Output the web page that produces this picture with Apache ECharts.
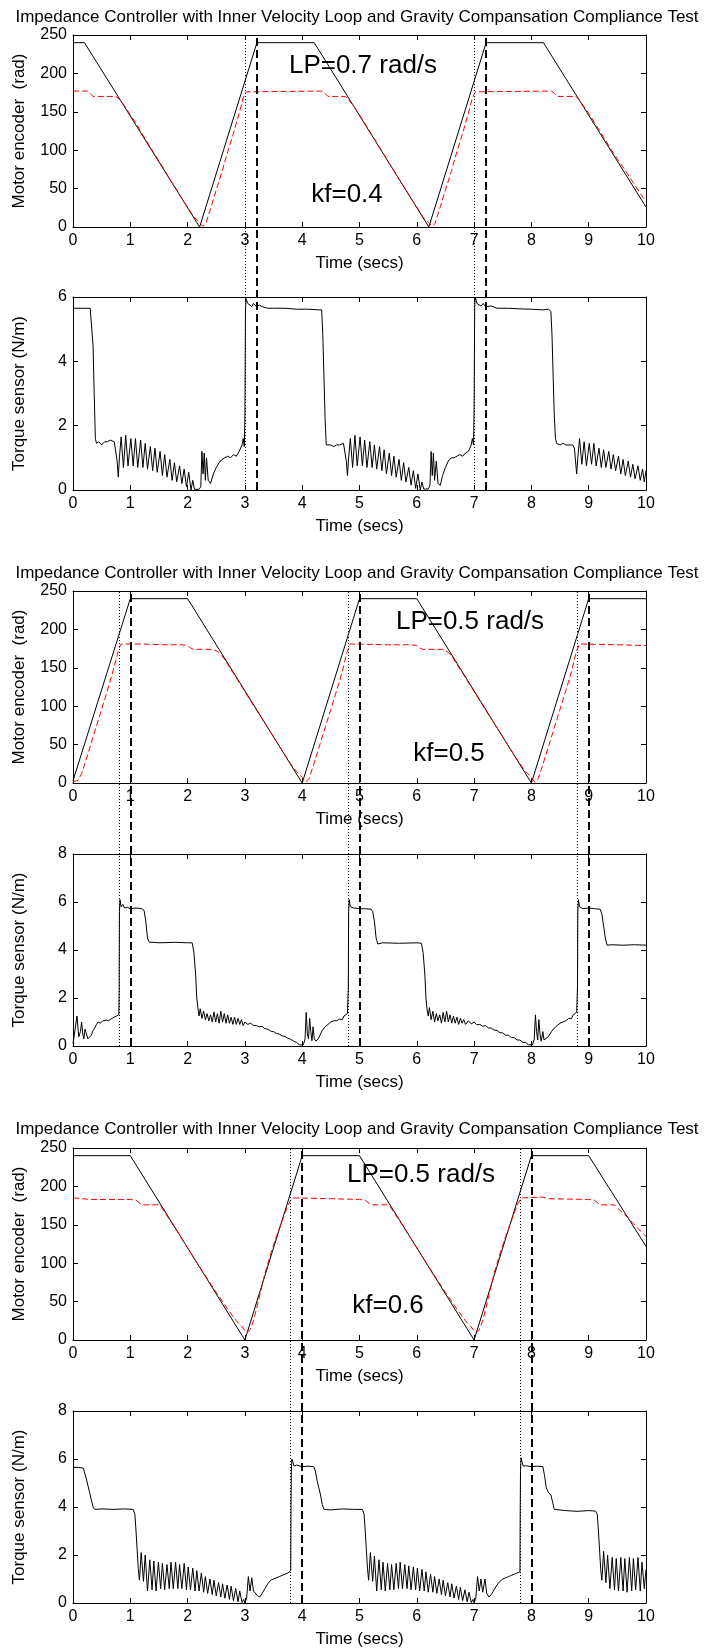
<!DOCTYPE html>
<html><head><meta charset="utf-8">
<script src="https://cdn.jsdelivr.net/npm/echarts@6/dist/echarts.min.js"></script>
<style>html,body{margin:0;padding:0;background:#fff}#c{width:705px;height:1650px}</style>
</head><body><div id="c"></div><script>
// ---------- DATA ----------
const chartTitle = 'Impedance Controller with Inner Velocity Loop and Gravity Compansation Compliance Test';
const xAxisName = 'Time (secs)';
const encName = 'Motor encoder  (rad)';
const torqueName = 'Torque sensor (N/m)';
const lpLabels = ['LP=0.7 rad/s', 'LP=0.5 rad/s', 'LP=0.5 rad/s'];
const kfLabels = ['kf=0.4', 'kf=0.5', 'kf=0.6'];
const timeRange = [0, 10];
const encRange = [0, 250];
const torqueMax = [6, 8, 8];

// Group 1 (kf=0.4)
const enc1Motor = [[0,240],[0.2,240],[2.21,0],[3.21,240],[4.21,240],[6.21,0],[7.21,240],[8.21,240],[10,26]];
const enc1Ref = [[0,177],[0.25,177],[0.3,174],[0.35,170],[0.75,170],[0.8,167],[0.9,158],[1.0,146],[1.1,135],[1.2,122],[1.3,110],[1.4,98],[1.5,86],[1.6,74],[1.7,61],[1.8,50],[1.9,37],[2.0,26],[2.1,14],[2.2,6],[2.27,1],[2.32,5],[2.4,24],[2.5,48],[2.6,72],[2.7,98],[2.8,122],[2.9,148],[2.97,168],[3.02,176],[3.05,177],[4.35,177],[4.4,174],[4.45,170],[4.75,170],[4.8,167],[4.9,157],[5.0,146],[5.1,134],[5.2,122],[5.3,110],[5.4,98],[5.5,85],[5.6,74],[5.7,61],[5.8,50],[5.9,37],[6.0,26],[6.1,14],[6.2,6],[6.27,1],[6.32,5],[6.4,24],[6.5,48],[6.6,72],[6.7,98],[6.8,122],[6.9,148],[6.97,168],[7.02,176],[7.05,177],[8.35,177],[8.4,174],[8.45,170],[8.78,170],[8.85,164],[9.0,148],[9.2,124],[9.4,100],[9.6,78],[9.8,55],[10,33]];
const torque1 = [[0,5.65],[0.3,5.65],[0.33,5.6],[0.35,4.5],[0.37,3.0],[0.39,1.6],[0.41,1.45],[0.45,1.5],[0.5,1.4],[0.55,1.5],[0.6,1.5],[0.65,1.55],[0.72,1.5],[0.75,1.45],[0.77,0.9],[0.79,0.4],[0.81,1.0],
[0.84,1.65],[0.88,0.7],[0.92,1.7],[0.96,0.75],[1.01,1.6],[1.05,0.75],[1.09,1.6],[1.13,0.7],[1.18,1.55],[1.22,0.7],[1.26,1.45],[1.30,0.65],[1.35,1.35],[1.39,0.6],[1.43,1.3],[1.47,0.55],[1.52,1.2],[1.56,0.45],[1.60,1.1],[1.64,0.4],[1.69,0.95],[1.73,0.3],[1.77,0.85],[1.81,0.25],[1.86,0.75],[1.90,0.2],[1.94,0.65],[1.98,0.1],[2.02,0.55],[2.06,0.0],[2.09,0.3],[2.12,0.02],[2.2,0.02],[2.23,0.1],[2.25,1.2],[2.27,0.5],[2.29,1.15],[2.31,0.3],[2.33,1.0],[2.36,0.3],[2.40,0.2],[2.45,0.5],[2.5,0.7],[2.55,0.85],[2.6,0.95],[2.65,1.0],[2.7,1.05],[2.75,1.0],[2.8,1.1],[2.85,1.05],[2.9,1.2],[2.95,1.4],[2.97,1.6],[2.99,1.35],[3.0,2.3],[3.01,5.6],[3.02,5.95],[3.05,5.8],[3.08,5.85],[3.12,5.7],[3.15,5.8],[3.2,5.7],[3.25,5.75],[3.3,5.7],[3.4,5.65],[3.5,5.65],[3.7,5.65],[3.9,5.62],[4.1,5.62],[4.3,5.6],[4.34,5.6],[4.36,4.8],[4.38,3.5],[4.40,2.2],[4.42,1.4],
[4.45,1.35],[4.5,1.4],[4.55,1.35],[4.6,1.4],[4.65,1.4],[4.72,1.45],[4.75,1.4],[4.77,0.9],[4.79,0.45],[4.81,1.0],[4.84,1.6],[4.88,0.7],[4.92,1.7],[4.96,0.75],[5.01,1.65],[5.05,0.75],[5.09,1.55],[5.13,0.7],[5.18,1.5],[5.22,0.7],[5.26,1.4],[5.30,0.65],[5.35,1.35],[5.39,0.6],[5.43,1.25],[5.47,0.5],[5.52,1.15],[5.56,0.45],[5.60,1.05],[5.64,0.4],[5.69,0.95],[5.73,0.3],[5.77,0.85],[5.81,0.25],[5.86,0.7],[5.90,0.15],[5.94,0.6],[5.98,0.05],[6.02,0.5],[6.06,0.0],[6.09,0.25],[6.12,0.03],[6.2,0.03],[6.23,0.15],[6.25,1.2],[6.27,0.45],[6.29,1.15],[6.31,0.3],[6.34,0.9],[6.37,0.2],[6.41,0.15],[6.45,0.45],[6.5,0.7],[6.55,0.9],[6.6,1.0],[6.65,1.0],[6.7,1.05],[6.75,1.1],[6.8,1.05],[6.85,1.15],[6.9,1.2],[6.95,1.4],[6.97,1.6],[6.99,1.4],[7.0,2.5],[7.01,5.7],[7.02,6.0],[7.05,5.8],[7.08,5.85],[7.12,5.72],[7.16,5.8],[7.2,5.7],[7.3,5.72],[7.4,5.65],[7.6,5.65],[7.8,5.63],[8.0,5.62],[8.2,5.6],[8.3,5.62],[8.34,5.55],[8.36,4.8],[8.38,3.5],[8.40,2.3],[8.42,1.6],[8.44,1.45],[8.5,1.4],[8.55,1.45],[8.6,1.4],[8.65,1.4],[8.72,1.4],[8.75,1.3],[8.77,0.9],[8.79,0.5],[8.81,1.0],[8.84,1.6],[8.88,0.8],[8.92,1.5],[8.96,0.75],[9.01,1.45],[9.05,0.8],[9.09,1.45],[9.13,0.75],[9.18,1.3],[9.22,0.7],[9.26,1.25],[9.30,0.7],[9.35,1.2],[9.39,0.65],[9.43,1.1],[9.47,0.6],[9.52,1.05],[9.56,0.5],[9.60,0.95],[9.64,0.45],[9.69,0.9],[9.73,0.4],[9.77,0.8],[9.81,0.35],[9.86,0.75],[9.90,0.3],[9.94,0.65],[9.97,0.25],[10.0,0.6]];
const group1Dotted = [3.0, 7.0];
const group1Dashed = [3.2, 7.2];

// Group 2 (kf=0.5)
const enc2Motor = [[0,3],[1.0,240],[2.0,240],[4.0,0],[5.0,240],[6.0,240],[8.0,0],[9.0,240],[10,240]];
const enc2Ref = [[0,2],[0.08,3],[0.15,12],[0.25,35],[0.35,60],[0.45,84],[0.55,108],[0.65,133],[0.75,160],[0.8,175],[0.84,181],[1.2,181],[1.6,180],[1.9,180],[2.0,179],[2.05,176],[2.1,174],[2.45,174],[2.55,170],[2.6,166],[2.8,143],[3.0,119],[3.2,95],[3.4,72],[3.6,48],[3.8,25],[3.9,15],[4.0,7],[4.06,1],[4.12,6],[4.2,24],[4.3,48],[4.4,72],[4.5,96],[4.6,120],[4.7,145],[4.78,170],[4.84,181],[5.5,180],[5.9,180],[6.0,179],[6.05,176],[6.1,174],[6.45,174],[6.55,170],[6.6,166],[6.8,143],[7.0,119],[7.2,95],[7.4,72],[7.6,48],[7.8,25],[7.9,15],[8.0,7],[8.06,1],[8.12,6],[8.2,24],[8.3,48],[8.4,72],[8.5,96],[8.6,120],[8.7,145],[8.78,170],[8.84,181],[9.5,180],[10,179]];
const torque2 = [[0,0.1],[0.03,0.17],[0.07,1.25],[0.1,0.38],[0.13,0.6],[0.15,1.0],[0.17,0.5],[0.19,0.3],[0.21,0.7],[0.23,0.55],[0.26,0.3],[0.29,0.22],[0.32,0.45],[0.35,0.65],[0.38,0.75],[0.41,0.9],[0.44,1.0],[0.48,0.95],[0.52,1.05],[0.55,1.0],[0.58,1.08],[0.62,1.05],[0.66,1.12],[0.70,1.18],[0.73,1.12],[0.76,1.25],[0.79,1.22],[0.8,1.3],[0.805,2.2],[0.81,5.6],[0.82,6.1],[0.84,5.8],[0.87,5.9],[0.9,5.75],[0.95,5.78],[1.0,5.72],[1.1,5.75],[1.2,5.72],[1.24,5.65],[1.27,5.2],[1.3,4.5],[1.33,4.33],[1.5,4.3],[1.8,4.32],[2.0,4.3],[2.08,4.3],[2.11,3.9],[2.14,3.0],[2.16,2.0],[2.18,1.6],[2.2,1.25],
[2.22,1.55],[2.25,1.15],[2.28,1.45],[2.31,1.1],[2.34,1.35],[2.37,1.05],[2.40,1.3],[2.43,1.0],[2.46,1.42],[2.49,1.0],[2.52,1.35],[2.55,0.95],[2.58,1.45],[2.61,1.0],[2.64,1.35],[2.67,0.95],[2.70,1.3],[2.73,0.95],[2.76,1.2],[2.79,0.9],[2.82,1.2],[2.85,0.9],[2.88,1.15],[2.91,0.9],[2.94,1.1],[2.97,0.85],[3.0,1.0],[3.05,0.9],[3.1,0.95],[3.15,0.85],[3.2,0.85],[3.25,0.8],[3.3,0.82],[3.35,0.72],[3.4,0.7],[3.45,0.62],[3.5,0.6],[3.55,0.52],[3.6,0.5],[3.65,0.42],[3.7,0.4],[3.75,0.32],[3.8,0.28],[3.85,0.2],[3.9,0.15],[3.95,0.05],[3.98,0.0],[4.02,0.05],[4.05,0.3],[4.07,1.4],[4.09,0.5],[4.11,0.3],[4.13,1.15],[4.15,0.6],[4.17,0.22],[4.19,0.8],[4.21,0.3],[4.24,0.2],[4.28,0.3],[4.32,0.5],[4.35,0.65],[4.4,0.8],[4.45,0.9],[4.5,1.0],[4.55,1.05],[4.6,1.05],[4.65,1.12],[4.7,1.1],[4.73,1.25],[4.76,1.2],[4.79,1.35],[4.8,1.3],[4.805,2.5],[4.81,5.6],[4.82,6.1],[4.84,5.8],[4.87,5.85],[4.9,5.75],[5.0,5.72],[5.1,5.72],[5.2,5.7],[5.23,5.6],[5.26,5.2],[5.29,4.5],[5.32,4.25],[5.4,4.3],[5.7,4.28],[6.0,4.3],[6.08,4.28],[6.11,3.9],[6.14,3.0],[6.16,2.0],[6.18,1.5],[6.2,1.25],
[6.22,1.6],[6.25,1.1],[6.28,1.45],[6.31,1.0],[6.34,1.35],[6.37,1.05],[6.40,1.3],[6.43,0.95],[6.46,1.4],[6.49,1.0],[6.52,1.45],[6.55,1.0],[6.58,1.3],[6.61,0.95],[6.64,1.25],[6.67,0.95],[6.70,1.2],[6.73,0.9],[6.76,1.15],[6.79,0.95],[6.82,1.1],[6.85,0.9],[6.9,1.05],[6.95,0.92],[7.0,1.0],[7.05,0.88],[7.1,0.9],[7.15,0.82],[7.2,0.85],[7.25,0.75],[7.3,0.75],[7.35,0.66],[7.4,0.65],[7.45,0.55],[7.5,0.55],[7.55,0.45],[7.6,0.45],[7.65,0.35],[7.7,0.35],[7.75,0.25],[7.8,0.25],[7.85,0.15],[7.9,0.15],[7.95,0.05],[7.98,0.0],[8.02,0.05],[8.05,0.3],[8.07,1.3],[8.09,0.6],[8.11,0.25],[8.13,1.1],[8.15,0.5],[8.17,0.2],[8.2,0.6],[8.22,0.25],[8.25,0.2],[8.3,0.4],[8.35,0.6],[8.4,0.75],[8.45,0.85],[8.5,0.95],[8.55,1.0],[8.6,1.05],[8.65,1.15],[8.7,1.15],[8.73,1.3],[8.76,1.25],[8.79,1.4],[8.8,1.35],[8.805,2.5],[8.81,5.6],[8.82,6.1],[8.84,5.8],[8.87,5.85],[8.9,5.72],[9.0,5.75],[9.1,5.72],[9.2,5.7],[9.23,5.5],[9.26,5.0],[9.29,4.5],[9.32,4.2],[9.4,4.22],[9.6,4.2],[9.8,4.22],[10,4.2]];
const group2Dotted = [0.8, 4.8, 8.8];
const group2Dashed = [1.0, 5.0, 9.0];

// Group 3 (kf=0.6)
const enc3Motor = [[0,240],[1.0,240],[3.0,0],[4.0,240],[5.0,240],[7.0,0],[8.0,240],[9.0,240],[10,122]];
const enc3Ref = [[0,185],[0.3,183],[1.0,183],[1.1,182],[1.2,176],[1.5,176],[1.55,172],[1.7,155],[1.9,132],[2.1,108],[2.3,85],[2.5,62],[2.7,40],[2.85,25],[2.95,17],[3.02,10],[3.08,12],[3.15,25],[3.25,55],[3.35,87],[3.45,112],[3.55,135],[3.65,155],[3.75,175],[3.82,185],[4.5,184],[5.0,183],[5.1,182],[5.2,176],[5.5,176],[5.55,172],[5.7,155],[5.9,132],[6.1,108],[6.3,85],[6.5,62],[6.7,40],[6.85,25],[6.95,17],[7.02,10],[7.08,12],[7.15,25],[7.25,55],[7.35,87],[7.45,112],[7.55,135],[7.65,155],[7.75,175],[7.82,185],[8.2,186],[8.3,184],[9.0,183],[9.1,182],[9.2,176],[9.45,176],[9.5,172],[9.7,158],[9.85,146],[10,135]];
const torque3 = [[0,5.65],[0.1,5.65],[0.18,5.62],[0.2,5.55],[0.23,5.2],[0.26,4.9],[0.29,4.6],[0.32,4.3],[0.35,4.0],[0.38,3.9],[0.5,3.92],[0.7,3.9],[0.9,3.92],[1.05,3.9],[1.08,3.7],[1.1,3.0],[1.12,2.2],[1.14,1.4],[1.16,0.95],
[1.19,2.1],[1.23,0.9],[1.26,2.0],[1.30,0.5],[1.34,1.8],[1.38,0.55],[1.41,1.75],[1.45,0.5],[1.49,1.7],[1.53,0.6],[1.56,1.65],[1.60,0.55],[1.64,1.6],[1.68,0.6],[1.71,1.7],[1.75,0.6],[1.79,1.7],[1.83,0.6],[1.86,1.6],[1.90,0.6],[1.94,1.65],[1.98,0.55],[2.01,1.5],[2.05,0.55],[2.09,1.45],[2.13,0.5],[2.16,1.35],[2.20,0.5],[2.24,1.25],[2.28,0.45],[2.31,1.1],[2.35,0.4],[2.39,1.0],[2.43,0.35],[2.46,0.95],[2.50,0.3],[2.54,0.85],[2.58,0.25],[2.61,0.8],[2.65,0.2],[2.69,0.75],[2.73,0.15],[2.76,0.7],[2.80,0.1],[2.84,0.6],[2.88,0.05],[2.91,0.5],[2.95,0.02],[2.98,0.15],[3.0,0.0],[3.03,0.2],[3.06,1.1],[3.09,0.5],[3.12,1.05],[3.15,0.5],[3.18,0.45],[3.22,0.3],[3.26,0.25],[3.3,0.4],[3.35,0.6],[3.4,0.8],[3.45,0.95],[3.5,1.0],[3.55,1.05],[3.6,1.1],[3.65,1.15],[3.7,1.2],[3.75,1.25],[3.78,1.3],[3.8,1.35],[3.805,4.0],[3.81,5.5],[3.82,6.0],[3.84,5.85],[3.86,5.7],[3.9,5.75],[4.0,5.68],[4.1,5.7],[4.2,5.68],[4.23,5.5],[4.26,5.1],[4.29,4.8],[4.32,4.5],[4.35,4.1],[4.38,3.9],[4.5,3.88],[4.7,3.92],[4.9,3.9],[5.05,3.9],[5.08,3.7],[5.1,3.0],[5.12,2.2],[5.14,1.4],[5.16,0.95],
[5.19,2.1],[5.23,0.9],[5.26,1.95],[5.30,0.5],[5.34,1.8],[5.38,0.55],[5.41,1.7],[5.45,0.5],[5.49,1.65],[5.53,0.55],[5.56,1.6],[5.60,0.55],[5.64,1.65],[5.68,0.6],[5.71,1.7],[5.75,0.6],[5.79,1.6],[5.83,0.6],[5.86,1.55],[5.90,0.55],[5.94,1.5],[5.98,0.55],[6.01,1.45],[6.05,0.5],[6.09,1.4],[6.13,0.5],[6.16,1.3],[6.20,0.45],[6.24,1.2],[6.28,0.45],[6.31,1.1],[6.35,0.4],[6.39,1.0],[6.43,0.35],[6.46,0.95],[6.50,0.3],[6.54,0.85],[6.58,0.25],[6.61,0.8],[6.65,0.2],[6.69,0.7],[6.73,0.15],[6.76,0.65],[6.80,0.1],[6.84,0.55],[6.88,0.05],[6.91,0.45],[6.95,0.02],[6.98,0.15],[7.0,0.0],[7.03,0.2],[7.06,1.1],[7.09,0.5],[7.12,1.0],[7.15,0.45],[7.19,1.0],[7.22,0.4],[7.26,0.25],[7.3,0.35],[7.35,0.55],[7.4,0.75],[7.45,0.9],[7.5,1.0],[7.55,1.05],[7.6,1.1],[7.65,1.15],[7.7,1.2],[7.75,1.25],[7.78,1.3],[7.8,1.3],[7.805,4.0],[7.81,5.5],[7.82,6.05],[7.84,5.85],[7.86,5.7],[7.9,5.72],[8.0,5.68],[8.1,5.7],[8.2,5.68],[8.23,5.3],[8.26,4.8],[8.3,4.6],[8.34,4.5],[8.37,4.2],[8.4,3.9],[8.43,3.82],[8.6,3.85],[8.8,3.82],[9.0,3.85],[9.12,3.83],[9.15,3.7],[9.17,3.0],[9.19,2.2],[9.21,1.4],[9.23,0.95],
[9.26,2.15],[9.30,0.85],[9.33,2.0],[9.37,0.6],[9.41,1.9],[9.45,0.55],[9.48,1.85],[9.52,0.5],[9.56,1.9],[9.60,0.5],[9.63,1.85],[9.67,0.45],[9.71,1.9],[9.75,0.5],[9.78,1.85],[9.82,0.55],[9.86,1.9],[9.90,0.5],[9.93,1.7],[9.97,0.6],[10.0,1.4]];
const group3Dotted = [3.8, 7.8];
const group3Dashed = [4.0, 8.0];

// ---------- LAYOUT ----------
const FONT = '"Liberation Sans", Arial, Helvetica, sans-serif';
const LEFT = 73, WIDTH = 573;
const panelTops = [35, 297, 591, 854, 1148, 1411];
const panelHeights = [192, 193, 192, 192, 192, 192];
const titleY = [17, 573, 1129];
const lpPos = [[363, 66], [470, 622], [421, 1175]];
const kfPos = [[347, 195], [449, 754], [388, 1306]];

const encMotor = [enc1Motor, enc2Motor, enc3Motor];
const encRef = [enc1Ref, enc2Ref, enc3Ref];
const torques = [torque1, torque2, torque3];
const dotted = [group1Dotted, group2Dotted, group3Dotted];
const dashed = [group1Dashed, group2Dashed, group3Dashed];

const grids = [], xAxes = [], yAxes = [], series = [], graphics = [];
const tickStyle = { show: true, inside: true, length: 5, lineStyle: { color: '#000', width: 1 } };
const lineAxis = { show: true, onZero: false, lineStyle: { color: '#000', width: 1 } };
const labelStyle = { color: '#000', fontSize: 16, fontFamily: FONT };

function addPanel(top, height, yMax, yInterval, yName, lines) {
  const gi = grids.length;
  grids.push({ left: LEFT, width: WIDTH, top: top, height: height, containLabel: false, outerBoundsMode: 'none' });
  const xb = xAxes.length;
  xAxes.push({ type: 'value', gridIndex: gi, position: 'bottom', min: timeRange[0], max: timeRange[1], interval: 1,
    axisLine: lineAxis, axisTick: tickStyle, splitLine: { show: false },
    axisLabel: Object.assign({ margin: 6 }, labelStyle),
    name: xAxisName, nameLocation: 'middle', nameGap: 28, nameMoveOverlap: false,
    nameTextStyle: { color: '#000', fontSize: 17, fontFamily: FONT } });
  xAxes.push({ type: 'value', gridIndex: gi, position: 'top', min: timeRange[0], max: timeRange[1], interval: 1,
    axisLine: lineAxis, axisTick: tickStyle, splitLine: { show: false }, axisLabel: { show: false } });
  const yb = yAxes.length;
  yAxes.push({ type: 'value', gridIndex: gi, position: 'left', min: 0, max: yMax, interval: yInterval,
    axisLine: lineAxis, axisTick: tickStyle, splitLine: { show: false },
    axisLabel: Object.assign({ margin: 6 }, labelStyle),
    name: yName, nameLocation: 'middle', nameGap: 45, nameMoveOverlap: false,
    nameTextStyle: { color: '#000', fontSize: 17, fontFamily: FONT } });
  yAxes.push({ type: 'value', gridIndex: gi, position: 'right', min: 0, max: yMax, interval: yInterval,
    axisLine: lineAxis, axisTick: tickStyle, splitLine: { show: false }, axisLabel: { show: false } });
  lines.forEach(l => series.push({ type: 'line', xAxisIndex: xb, yAxisIndex: yb, data: l.data,
    showSymbol: false, symbol: 'none', silent: true, animation: false, z: l.z || 2,
    lineStyle: l.style }));
}

function addOverlay(top, height, dots, dashes) {
  const gi = grids.length;
  grids.push({ left: LEFT, width: WIDTH, top: top, height: height, containLabel: false, outerBoundsMode: 'none' });
  const xi = xAxes.length, yi = yAxes.length;
  xAxes.push({ type: 'value', gridIndex: gi, min: timeRange[0], max: timeRange[1], show: false });
  yAxes.push({ type: 'value', gridIndex: gi, min: 0, max: 1, show: false });
  const md = [];
  dots.forEach(v => md.push({ xAxis: v, lineStyle: { color: '#000', width: 1, type: [1, 2] } }));
  dashes.forEach(v => md.push({ xAxis: v, lineStyle: { color: '#000', width: 2, type: [8, 4] } }));
  series.push({ type: 'line', xAxisIndex: xi, yAxisIndex: yi, data: [], animation: false, silent: true, z: 5,
    markLine: { silent: true, animation: false, symbol: ['none', 'none'], label: { show: false }, data: md } });
}

for (let g = 0; g < 3; g++) {
  const tTop = panelTops[2 * g], tH = panelHeights[2 * g];
  const bTop = panelTops[2 * g + 1], bH = panelHeights[2 * g + 1];
  addPanel(tTop, tH, encRange[1], 50, encName, [
    { data: encMotor[g], style: { color: '#000', width: 1 } },
    { data: encRef[g], style: { color: '#ff0000', width: 1, type: [6, 3] }, z: 3 }
  ]);
  addPanel(bTop, bH, torqueMax[g], 2, torqueName, [
    { data: torques[g], style: { color: '#000', width: 1 } }
  ]);
  addOverlay(tTop, bTop + bH - tTop, dotted[g], dashed[g]);
  graphics.push({ type: 'text', left: 0, top: 0, x: 357, y: titleY[g], silent: true,
    style: { text: chartTitle, x: 0, y: 0, align: 'center', verticalAlign: 'middle', fill: '#000', font: '17px ' + FONT } });
  graphics.push({ type: 'text', x: lpPos[g][0], y: lpPos[g][1], silent: true,
    style: { text: lpLabels[g], x: 0, y: 0, align: 'center', verticalAlign: 'middle', fill: '#000', font: '26px ' + FONT } });
  graphics.push({ type: 'text', x: kfPos[g][0], y: kfPos[g][1], silent: true,
    style: { text: kfLabels[g], x: 0, y: 0, align: 'center', verticalAlign: 'middle', fill: '#000', font: '26px ' + FONT } });
}
graphics.forEach(gr => { delete gr.left; delete gr.top; });

const chart = echarts.init(document.getElementById('c'), null, { renderer: 'canvas' });
chart.setOption({
  animation: false,
  backgroundColor: '#fff',
  grid: grids, xAxis: xAxes, yAxis: yAxes, series: series,
  graphic: { elements: graphics }
});
</script></body></html>
